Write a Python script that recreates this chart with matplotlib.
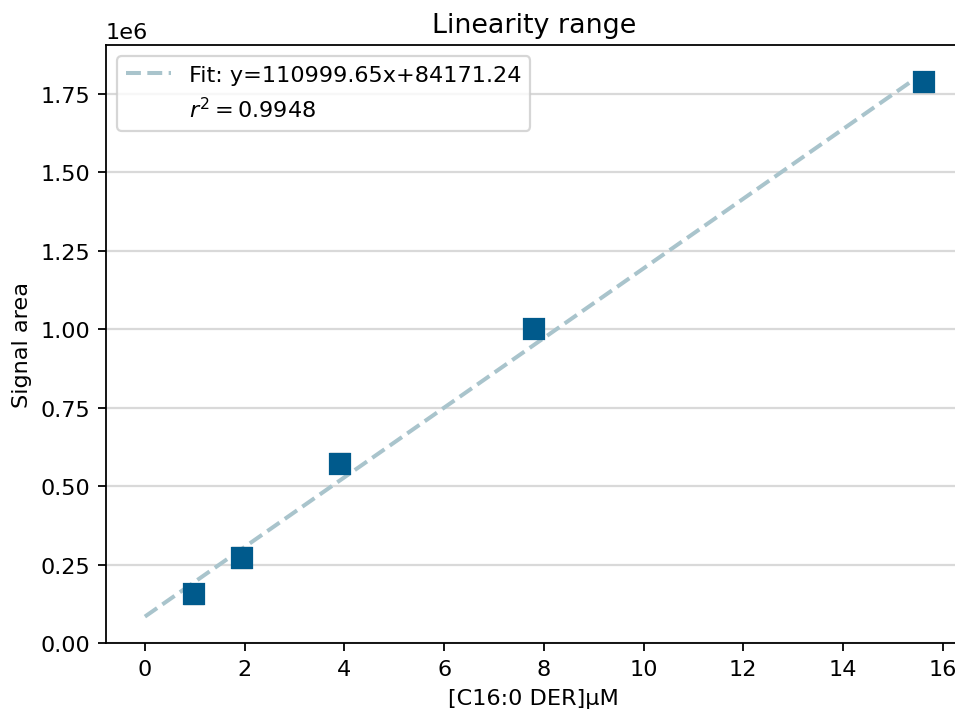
import numpy as np
import matplotlib
matplotlib.use('Agg')
import matplotlib.pyplot as plt
from matplotlib.lines import Line2D

# Calibration data
conc = [0.977, 1.953, 3.906, 7.8125, 15.625]
area = [155000, 270000, 572000, 1001000, 1787000]
area_err = [30000, 32000, 30000, 29000, 31000]
slope = 110999.65
intercept = 84171.24
r2 = 0.9948

DPI = 161
fig = plt.figure(figsize=(955 / DPI, 711 / DPI), dpi=DPI)
# axes extends slightly past the right edge, like the cropped original
ax = fig.add_axes([0.111, 0.0942, 0.896, 0.841])

ax.grid(axis='y', color='#d9d9d9', linewidth=1, zorder=0)
ax.set_axisbelow(True)

x_fit = np.array([0, max(conc)])
y_fit = slope * x_fit + intercept
ax.plot(x_fit, y_fit, '--', color='#a9c4cc', linewidth=1.8, zorder=2)

ax.errorbar(conc, area, yerr=area_err, fmt='s', color='#005a8c',
            markersize=8.5, ecolor='#7f7f7f', elinewidth=1, capsize=4.5,
            zorder=3)

ax.set_xlim(-0.78, 16.38)
ax.set_ylim(0, 1.906e6)
ax.set_xlabel('[C16:0 DER]\u00b5M')
ax.set_ylabel('Signal area')
ax.set_title('Linearity range')

handles = [Line2D([], [], color='#a9c4cc', linestyle='--', linewidth=1.8),
           Line2D([], [], color='none')]
labels = [f'Fit: y={slope:.2f}x+{intercept:.2f}', f'$r^2 = ${r2:.4f}']
ax.legend(handles, labels, loc='upper left')

fig.savefig('out.png', dpi=DPI)
